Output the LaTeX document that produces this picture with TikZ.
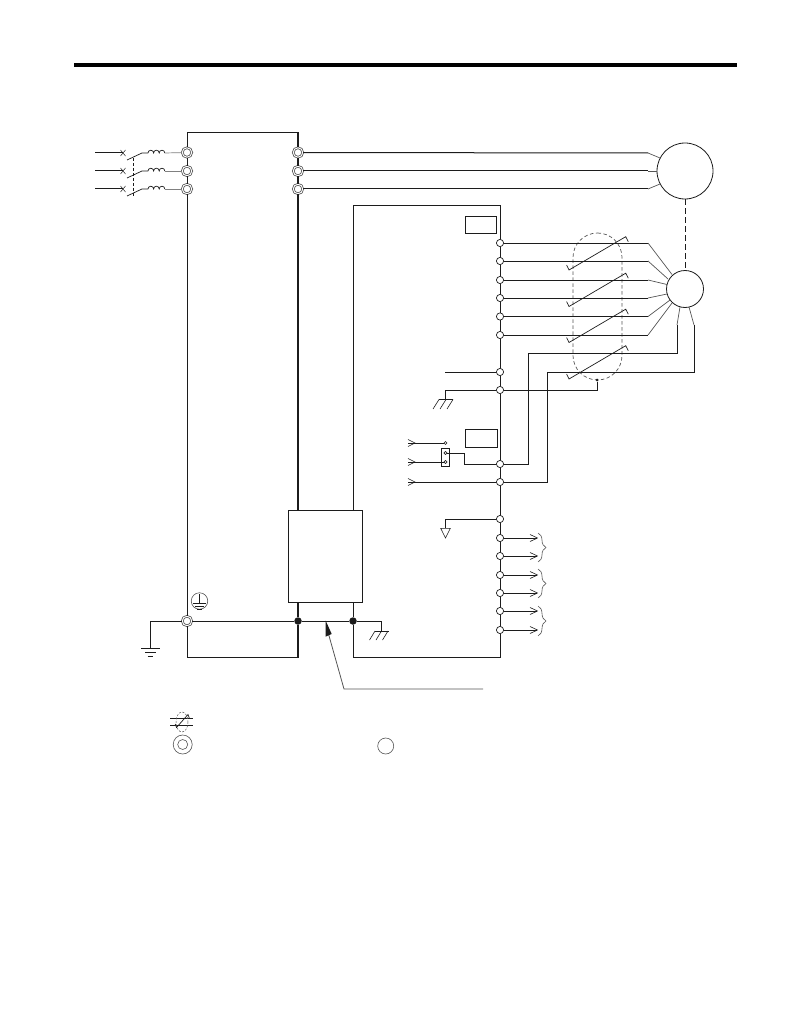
\documentclass[tikz,border=0pt]{standalone}
\usetikzlibrary{decorations.pathreplacing,arrows.meta}
\definecolor{ink}{HTML}{1C1C1C}
\definecolor{soft}{HTML}{555555}
\tikzset{
  wire/.style={draw=ink,line width=1pt},
  thin wire/.style={draw=soft,line width=0.7pt},
  thick wire/.style={draw=ink,line width=1.9pt},
  shield/.style={draw=soft,line width=0.7pt,dash pattern=on 3.5pt off 2.5pt},
  powerterm/.style={circle,draw=soft,fill=white,inner sep=0pt,minimum size=9.5pt,line width=0.8pt,double=white,double distance=0.9pt},
  ctrlterm/.style={circle,draw=ink,fill=white,inner sep=0pt,minimum size=7.2pt,line width=0.7pt},
  tinyterm/.style={circle,draw=ink,fill=white,inner sep=0pt,minimum size=3pt,line width=0.5pt},
  junction/.style={circle,fill=ink,inner sep=0pt,minimum size=7.5pt},
  smalldot/.style={circle,fill=ink,inner sep=0pt,minimum size=3pt},
  machine/.style={circle,draw=ink,fill=white,inner sep=0pt,line width=0.8pt},
  boxed/.style={rectangle,draw=ink,fill=white,inner sep=0pt,line width=0.9pt,anchor=north west},
  ring/.style={circle,draw=soft,inner sep=0pt,line width=0.6pt},
  rbrace/.style={draw=soft,line width=0.6pt,decorate,decoration={brace,amplitude=8pt,aspect=0.5}},
}
\newcommand{\hookslash}[4]{%
  \draw[wire,line width=0.7pt] (#1-2.4,#2-5) -- (#1,#2) -- (#3,#4) -- (#3+2.6,#4+5);}
\begin{document}
\begin{tikzpicture}[x=1pt,y=-1pt]
\useasboundingbox (0,0) rectangle (794,1032);
% header rule
\fill[black] (74,63) rectangle (737,67);
% nodes
\foreach \n/\y in {1/152.5,2/171,3/189}{
  \node[powerterm] (L\n) at (187,\y) {};
  \node[powerterm] (R\n) at (298,\y) {};
}
\node[powerterm] (E) at (187,621) {};
\foreach \n/\y in {1/243,2/261,3/280,4/298,5/316.5,6/335,7/372,8/390,9/464,10/482,11/519,12/538,13/556,14/575,15/593,16/611,17/630}{
  \node[ctrlterm] (T\n) at (500,\y) {};
}
\node[machine,minimum size=56pt] (M) at (685,171) {};
\node[machine,minimum size=37pt] (PG) at (685,289) {};
\node[boxed,minimum width=31pt,minimum height=17pt] (B1) at (464.5,216) {};
\node[boxed,minimum width=32pt,minimum height=18pt] (B2) at (465,429) {};
\node[boxed,minimum width=74pt,minimum height=92pt] (P) at (288,510) {};
\node[junction] (J1) at (298,621) {};
\node[junction] (J2) at (353,621) {};
\node[tinyterm] (A1) at (445.5,443) {};
\node[tinyterm] (A2) at (445.5,453) {};
\node[tinyterm] (A3) at (445.5,462) {};
% drive outline
\draw[wire] (L1) -- (187,133) -- (298,133);
\draw[wire] (L1) -- (L2);\draw[wire] (L2) -- (L3);\draw[wire] (L3) -- (E);
\draw[wire] (E) -- (187,657) -- (298,657);
\draw[thick wire] (298,132.5) -- (R1);
\draw[thick wire] (R1) -- (R2);\draw[thick wire] (R2) -- (R3);
\draw[thick wire] (R3) -- (298,510);
\draw[thick wire] (298,602) -- (J1);\draw[thick wire] (J1) -- (298,657.5);
% control outline
\draw[wire] (353,510) -- (353,206) -- (500,206) -- (T1);
\foreach \a/\b in {1/2,2/3,3/4,4/5,5/6,6/7,7/8,8/9,9/10,10/11,11/12,12/13,13/14,14/15,15/16,16/17}{
  \draw[wire] (T\a) -- (T\b);
}
\draw[wire] (T17) -- (500,657) -- (353,657) -- (J2);
\draw[wire] (J2) -- (353,602);
% ground rail
\draw[wire] (E) -- (J1);\draw[wire] (J1) -- (J2);
\draw[wire] (J2) -- (381.7,621) -- (381.7,631);
\draw[wire] (E) -- (150,621) -- (150,648);
\draw[wire] (141,648.3) -- (160,648.3);
\draw[wire] (145,652.3) -- (156,652.3);
\draw[wire] (147.5,656.3) -- (153,656.3);
\draw[wire,line width=0.7pt] (375,631) -- (388.5,631);
\foreach \x in {375,381.5,388}{\draw[wire,line width=0.6pt] (\x,631) -- (\x-5.5,640);}
% earth symbol
\node[ring,minimum size=16.5pt] (ES) at (199.5,601) {};
\draw[wire,line width=0.7pt] (199.5,594) -- (199.5,603);
\draw[wire,line width=0.7pt] (193,603.5) -- (206,603.5);
\draw[wire,line width=0.7pt] (195,606.5) -- (204,606.5);
\draw[wire,line width=0.7pt] (197,609.5) -- (202,609.5);
% incoming supply
\foreach \n/\y in {1/153,2/171,3/189}{
  \draw[wire] (95,\y) -- (123,\y);
  \draw[wire,line width=0.5pt] (120.5,\y-3) -- (125.5,\y+3) (120.5,\y+3) -- (125.5,\y-3);
  \draw[wire,line width=0.7pt] (127,\y+7) -- (142,\y) -- (148,\y);
  \draw[wire,line width=0.7pt] (148,\y) arc[start angle=180,end angle=360,radius=2.8]
     arc[start angle=180,end angle=360,radius=2.8] arc[start angle=180,end angle=360,radius=2.8];
  \draw[thin wire,draw=gray] (164.8,\y) -- (L\n);
}
\draw[wire,line width=0.8pt,dash pattern=on 3pt off 2pt] (133.5,158) -- (133.5,196);
% main to motor
\draw[wire] (R1) -- (648,153);\draw[thin wire] (648,153) -- (660,158);
\draw[wire] (R2) -- (648,171);\draw[thin wire] (648,171) -- (M);
\draw[wire] (R3) -- (648,189);\draw[thin wire] (648,189) -- (660,184);
\draw[wire,line width=1pt,dash pattern=on 5.5pt off 3.5pt] (M) -- (PG);
% shield
\draw[shield] (597.5,233) arc[start angle=270,end angle=360,radius=24.5] -- (622,355.5)
  arc[start angle=0,end angle=90,radius=24.5] -- (597.5,380)
  arc[start angle=90,end angle=180,radius=24.5] -- (573,257.5)
  arc[start angle=180,end angle=270,radius=24.5] -- cycle;
\node[smalldot] (SD) at (597,380) {};
% encoder wires
\draw[wire] (T1) -- (648,243);\draw[thin wire] (648,243) -- (672,274.5);
\draw[wire] (T2) -- (648,261);\draw[thin wire] (648,261) -- (668,279);
\draw[wire] (T3) -- (648,280);\draw[thin wire] (648,280) -- (667,284.5);
\draw[wire] (T4) -- (648,298);\draw[thin wire] (648,298) -- (667,294);
\draw[wire] (T5) -- (648,316.5);\draw[thin wire] (648,316.5) -- (670,300);
\draw[wire] (T6) -- (648,335);\draw[thin wire] (648,335) -- (672,303);
\draw[wire] (T9) -- (528,464) -- (528,353) -- (677,353) -- (677,325);\draw[thin wire] (677,325) -- (680,307);
\draw[wire] (T10) -- (547,482) -- (547,372) -- (694,372) -- (694,325);\draw[thin wire] (694,325) -- (689,307);
\hookslash{569}{270}{625.7}{236.7}
\hookslash{569}{306.5}{625.7}{273.2}
\hookslash{569}{342.5}{625.7}{309.2}
\hookslash{569}{379}{625.7}{345.7}
% sensor ground and signal
\draw[wire] (T7) -- (445,372);
\draw[wire] (T8) -- (445,390) -- (445,399.5);
\draw[wire,line width=0.7pt] (439,399.5) -- (453,399.5);
\foreach \x in {439,446,453}{\draw[wire,line width=0.6pt] (\x,399.5) -- (\x-6,409);}
\draw[wire] (T8) -- (597,390) -- (SD);
% inputs
\draw[wire] (A1) -- (408,443);
\draw[wire] (A3) -- (408,462);
\draw[wire] (T10) -- (408,482);
\foreach \y in {443,462,482}{\draw[wire,line width=0.6pt] (408,\y-3.5) -- (415,\y) -- (408,\y+3.5);}
\node[rectangle,draw=ink,line width=0.9pt,minimum width=8pt,minimum height=18pt,inner sep=0pt] (JP) at (445.5,457.5) {};
\node[tinyterm] at (A2) {};
\node[tinyterm] at (A3) {};
\draw[wire] (A2) -- (464.5,453) -- (464.5,464) -- (T9);
% reference output
\draw[wire] (T11) -- (445.5,519) -- (445.5,528.3);
\draw[wire,line width=0.6pt] (440.7,528.3) -- (450.3,528.3) -- (445.5,538) -- cycle;
% outputs
\foreach \n/\y in {12/538,13/556,14/575,15/593,16/611,17/630}{
  \draw[wire] (T\n) -- (537,\y);
  \draw[wire,line width=0.6pt] (530,\y-3.5) -- (537.5,\y) -- (530,\y+3.5);
}
\foreach \a/\b in {533/562,569/598,606/636}{
  \draw[rbrace] (538,\a) -- (538,\b);
}
% leader
\coordinate (LA) at (483,689);
\coordinate (LB) at (344,689);
\coordinate (LT) at (325.7,620.7);
\draw[thin wire,line width=0.8pt] (LA) -- (LB) -- (328.5,634);
\fill[ink] (LT) -- (331.7,634) -- (325.5,636.7) -- cycle;
% legend
\draw[wire] (170,718) -- (193,718);
\draw[wire] (170,725) -- (193,725);
\draw[shield,line width=0.5pt,dash pattern=on 2pt off 1.5pt] (182,722) ellipse[x radius=6,y radius=10];
\draw[wire,line width=0.7pt] (175.2,724) -- (176.5,727.5) -- (188,714.5) -- (189.3,718);
\node[ring,minimum size=19pt] (LG1) at (182.7,744.5) {};
\node[ring,minimum size=10pt] (LG2) at (182.7,744.5) {};
\node[ring,minimum size=16pt] (LG3) at (385.7,746) {};
\end{tikzpicture}
\end{document}
